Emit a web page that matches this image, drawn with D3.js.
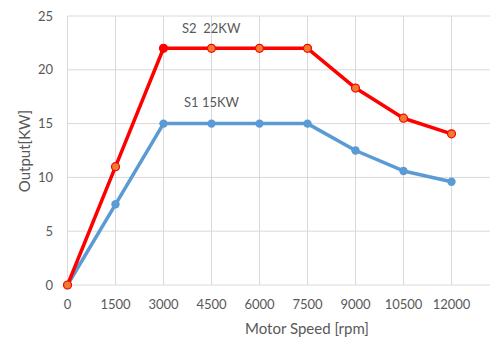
<!DOCTYPE html>
<html><head><meta charset="utf-8">
<script src="https://cdn.jsdelivr.net/npm/d3@7"></script>
<style>body{margin:0;background:#fff;}svg{display:block;}</style>
</head><body>
<svg id="c" width="490" height="340"></svg>
<script>
const speeds = [0,1500,3000,4500,6000,7500,9000,10500,12000];
const s2 = [0,11,22,22,22,22,18.3,15.5,14.05];
const s1 = [0,7.5,15,15,15,15,12.5,10.6,9.6];
const xTicks = [0,1500,3000,4500,6000,7500,9000,10500,12000];
const xGrid = [0,1500,3000,4500,6000,7500,9000,10500,12000,13500];
const yTicks = [0,5,10,15,20,25];

const svg = d3.select("#c");
const x = d3.scaleLinear().domain([0,13500]).range([67.5,499.5]);
const y = d3.scaleLinear().domain([0,25]).range([285,16]);
const font = "Lato, 'Open Sans', sans-serif";
const tc = "#595959";

const g = svg.append("g");
g.selectAll(".hg").data(yTicks).join("line")
 .attr("x1",x(0)).attr("x2",x(13500)).attr("y1",d=>y(d)).attr("y2",d=>y(d))
 .attr("stroke","#d9d9d9").attr("stroke-width",1);
g.selectAll(".vg").data(xGrid).join("line")
 .attr("x1",d=>x(d)).attr("x2",d=>x(d)).attr("y1",y(0)).attr("y2",y(25))
 .attr("stroke","#d9d9d9").attr("stroke-width",1);

svg.selectAll(".yl").data(yTicks).join("text")
 .attr("x",53).attr("y",d=>y(d)+4.5).attr("text-anchor","end")
 .attr("font-family",font).attr("font-size",13).attr("fill",tc).text(d=>d);
svg.selectAll(".xl").data(xTicks).join("text")
 .attr("x",d=>x(d)).attr("y",309).attr("text-anchor","middle")
 .attr("font-family",font).attr("font-size",13).attr("fill",tc).text(d=>d);

svg.append("text").attr("x",307).attr("y",334).attr("text-anchor","middle")
 .attr("font-family",font).attr("font-size",15).attr("fill",tc).text("Motor Speed [rpm]");
svg.append("text").attr("transform","translate(30,151) rotate(-90)").attr("text-anchor","middle")
 .attr("font-family",font).attr("font-size",15).attr("fill",tc).text("Output[KW]");

const line = d3.line().x((d,i)=>x(speeds[i])).y(d=>y(d));
svg.append("path").datum(s1).attr("d",line).attr("fill","none")
 .attr("stroke","#5b9bd5").attr("stroke-width",3.5).attr("stroke-linejoin","round");
svg.selectAll(".m1").data(s1).join("circle")
 .attr("cx",(d,i)=>x(speeds[i])).attr("cy",d=>y(d)).attr("r",4.2).attr("fill","#5b9bd5");
svg.append("path").datum(s2).attr("d",line).attr("fill","none")
 .attr("stroke","#ff0000").attr("stroke-width",3.5).attr("stroke-linejoin","round");
svg.selectAll(".m2").data(s2).join("circle")
 .attr("cx",(d,i)=>x(speeds[i])).attr("cy",d=>y(d)).attr("r",4)
 .attr("fill",(d,i)=>i===2?"#ff0000":"#ed7d31").attr("stroke","#ff0000").attr("stroke-width",1.2);

svg.append("text").attr("x",182).attr("y",33).attr("font-family",font).attr("font-size",13)
 .attr("fill",tc).attr("xml:space","preserve").style("white-space","pre").text("S2  22KW");
svg.append("text").attr("x",184).attr("y",107).attr("font-family",font).attr("font-size",13)
 .attr("fill",tc).text("S1 15KW");
</script>
</body></html>
